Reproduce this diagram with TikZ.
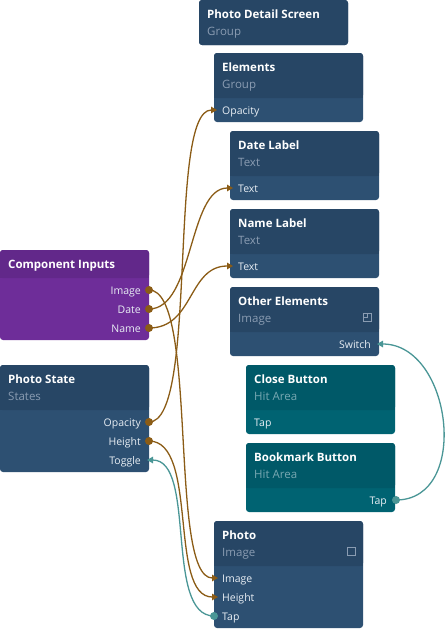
\documentclass[tikz,border=0pt]{standalone}
\usepackage{fontspec}
\setmainfont{Open Sans}
\usetikzlibrary{arrows.meta}
\definecolor{navyH}{RGB}{39,70,101}
\definecolor{navyB}{RGB}{45,80,114}
\definecolor{purpH}{RGB}{98,40,138}
\definecolor{purpB}{RGB}{110,45,153}
\definecolor{tealH}{RGB}{0,89,104}
\definecolor{tealB}{RGB}{0,99,114}
\definecolor{subN}{RGB}{138,156,178}
\definecolor{subT}{RGB}{120,168,178}
\definecolor{portT}{RGB}{232,238,244}
\definecolor{wireB}{RGB}{139,92,22}
\definecolor{wireT}{RGB}{74,150,150}
\newcommand{\mkbox}[7]{%
  \fill[#6, rounded corners=3pt] (#2,#3) rectangle (#2+149,#5);
  \fill[#7, rounded corners=3pt] (#2,#3) rectangle (#2+149,#4);
  \ifdim #4pt<#5pt \fill[#7] (#2,#4-5) rectangle (#2+149,#4); \fi
  \coordinate (#1) at (#2+74.5,#3);
}
\tikzset{
  ttl/.style={anchor=base west, text=white, font=\fontsize{11.5}{13}\selectfont\bfseries, inner sep=0},
  sub/.style={anchor=base west, text=subN, font=\fontsize{11.5}{13}\selectfont, inner sep=0},
  portl/.style={anchor=base west, text=portT, font=\fontsize{10.5}{12}\selectfont, inner sep=0},
  portr/.style={anchor=base east, text=portT, font=\fontsize{10.5}{12}\selectfont, inner sep=0},
  wb/.style={draw=wireB, line width=1.3pt, -{Triangle[length=6pt,width=6.5pt]}},
  wt/.style={draw=wireT, line width=1.3pt, -{Triangle[length=6pt,width=6.5pt]}},
  dotb/.style={circle, fill=wireB, inner sep=0, minimum size=8pt},
  dott/.style={circle, fill=wireT, inner sep=0, minimum size=8pt},
}
\begin{document}
\begin{tikzpicture}[x=1pt,y=-1pt]
\useasboundingbox (0,0) rectangle (446,629);
% boxes: name, x, top, header bottom, bottom, band colour, header colour
\mkbox{pds}{199}{0}{45}{45}{navyB}{navyH}
\mkbox{elem}{214}{53}{98}{122}{navyB}{navyH}
\mkbox{datel}{230}{131}{176}{200}{navyB}{navyH}
\mkbox{namel}{230}{209}{254}{278}{navyB}{navyH}
\mkbox{other}{230}{287}{332}{356}{navyB}{navyH}
\mkbox{close}{246}{365}{410}{434}{tealB}{tealH}
\mkbox{book}{246}{443}{488}{512}{tealB}{tealH}
\mkbox{photo}{214}{521}{566}{628}{navyB}{navyH}
\mkbox{ci}{0}{250}{278}{340}{purpB}{purpH}
\mkbox{ps}{0}{365}{410}{472}{navyB}{navyH}
% titles
\node[ttl] (t1) at (207,18) {Photo Detail Screen};
\node[sub] (s1) at (207,35) {Group};
\node[ttl] (t2) at (222,71) {Elements};
\node[sub] (s2) at (222,88) {Group};
\node[portl] (p2) at (222,114) {Opacity};
\node[ttl] (t3) at (238,149) {Date Label};
\node[sub] (s3) at (238,166) {Text};
\node[portl] (p3) at (238,192) {Text};
\node[ttl] (t4) at (238,227) {Name Label};
\node[sub] (s4) at (238,244) {Text};
\node[portl] (p4) at (238,270) {Text};
\node[ttl] (t5) at (238,305) {Other Elements};
\node[sub] (s5) at (238,322) {Image};
\node[portr] (p5) at (371,348) {Switch};
\node[ttl] (t6) at (254,383) {Close Button};
\node[sub, text=subT] (s6) at (254,400) {Hit Area};
\node[portl] (p6) at (254,426) {Tap};
\node[ttl] (t7) at (254,461) {Bookmark Button};
\node[sub, text=subT] (s7) at (254,478) {Hit Area};
\node[portr] (p7) at (387,504) {Tap};
\node[ttl] (t8) at (222,539) {Photo};
\node[sub] (s8) at (222,556) {Image};
\node[portl] (p8a) at (222,582) {Image};
\node[portl] (p8b) at (222,601) {Height};
\node[portl] (p8c) at (222,620) {Tap};
\node[ttl] (t9) at (8,268) {Component Inputs};
\node[portr] (p9a) at (141,294) {Image};
\node[portr] (p9b) at (141,313) {Date};
\node[portr] (p9c) at (141,332) {Name};
\node[ttl] (t10) at (8,383) {Photo State};
\node[sub] (s10) at (8,400) {States};
\node[portr] (p10a) at (141,426) {Opacity};
\node[portr] (p10b) at (141,445) {Height};
\node[portr] (p10c) at (141,464) {Toggle};
% icons
\draw[subN, line width=0.7pt] (363,313) rectangle (371,321);
\draw[subN, line width=0.7pt] (363,313) rectangle (367,317);
\draw[subN, line width=0.7pt] (347,547) rectangle (355,555);
% port coordinates
\coordinate (ciImg) at (149,290);
\coordinate (ciDate) at (149,309);
\coordinate (ciName) at (149,328);
\coordinate (psOp) at (149,422);
\coordinate (psH) at (149,441);
\coordinate (psTog) at (147,460);
\coordinate (elOp) at (217,110);
\coordinate (dtTx) at (233,188);
\coordinate (nmTx) at (233,266);
\coordinate (otSw) at (377,344);
\coordinate (bkTap) at (396,500);
\coordinate (phImg) at (218,578);
\coordinate (phH) at (218,597);
\coordinate (phTap) at (214,616);
% wires
\draw[wb] (ciImg) .. controls +(50,0) and +(-50,0) .. (phImg);
\draw[wb] (ciDate) .. controls +(45,0) and +(-45,0) .. (dtTx);
\draw[wb] (ciName) .. controls +(45,0) and +(-45,0) .. (nmTx);
\draw[wb] (psOp) .. controls +(50,0) and +(-50,0) .. (elOp);
\draw[wb] (psH) .. controls +(50,0) and +(-50,0) .. (phH);
\draw[wt] (phTap) .. controls +(-50,0) and +(50,0) .. (psTog);
\draw[wt] (bkTap) .. controls +(75,0) and +(75,0) .. (otSw);
\node[dotb] (d1) at (ciImg) {};
\node[dotb] (d2) at (ciDate) {};
\node[dotb] (d3) at (ciName) {};
\node[dotb] (d4) at (psOp) {};
\node[dotb] (d5) at (psH) {};
\node[dott] (d6) at (phTap) {};
\node[dott] (d7) at (bkTap) {};
\end{tikzpicture}
\end{document}
